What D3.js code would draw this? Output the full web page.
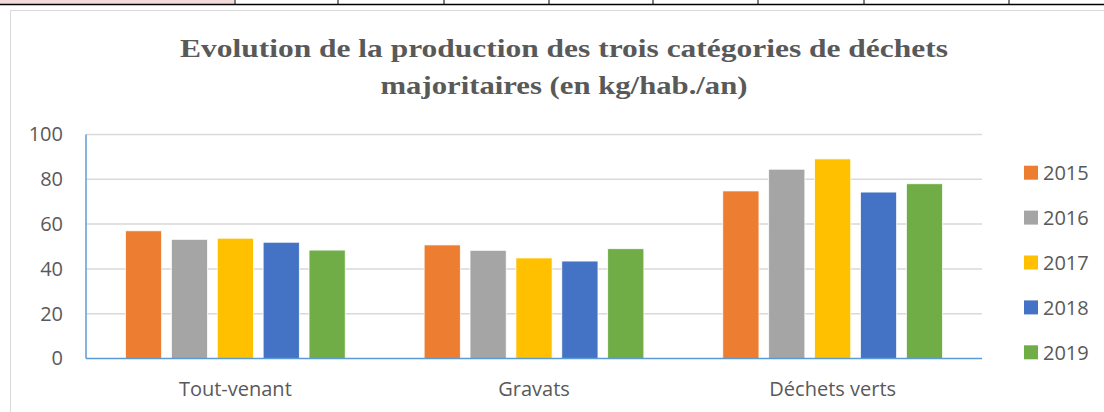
<!DOCTYPE html>
<html>
<head>
<meta charset="utf-8">
<script src="https://cdn.jsdelivr.net/npm/d3@7"></script>
<style>
  body { margin: 0; background: #fff; }
  svg { display: block; }
</style>
</head>
<body>
<div id="chart"></div>
<script>
// Data (kg/hab./an)
const categories = ["Tout-venant", "Gravats", "Déchets verts"];
const years = ["2015", "2016", "2017", "2018", "2019"];
const values2015 = [57, 50.7, 74.8];
const values2016 = [53.2, 48.3, 84.5];
const values2017 = [53.7, 44.9, 89.1];
const values2018 = [51.9, 43.5, 74.3];
const values2019 = [48.4, 49, 78];
const seriesValues = [values2015, values2016, values2017, values2018, values2019];
const yTicks = [0, 20, 40, 60, 80, 100];
const titleLines = ["Evolution de la production des trois catégories de déchets",
                    "majoritaires (en kg/hab./an)"];
const colors = ["#ed7d31", "#a5a5a5", "#ffc000", "#4472c4", "#70ad47"];
const tableCols = [235, 338, 444, 549, 653, 758, 864, 1009];

const width = 1104;
const height = 412;
const plot = { left: 86, right: 982, top: 134.5, bottom: 358.5 };
const labelFont = "'Open Sans', sans-serif";

const svg = d3.select("#chart")
    .append("svg")
    .attr("width", width)
    .attr("height", height);

// bit of the table above the chart
svg.append("rect")
    .attr("x", 0).attr("y", 0)
    .attr("width", 234).attr("height", 4)
    .attr("fill", "#f2dcdb");

svg.selectAll(".tcol")
    .data(tableCols)
    .enter().append("line")
    .attr("x1", d => d).attr("x2", d => d)
    .attr("y1", 0).attr("y2", 5)
    .attr("stroke", "#000")
    .attr("stroke-width", 1);

svg.append("line")
    .attr("x1", 0).attr("x2", width)
    .attr("y1", 4.5).attr("y2", 4.5)
    .attr("stroke", "#000")
    .attr("stroke-width", 1.6);

// chart frame
svg.append("rect")
    .attr("x", 10.5).attr("y", 10.5)
    .attr("width", 1200).attr("height", 500)
    .attr("fill", "#fff")
    .attr("stroke", "#d9d9d9")
    .attr("stroke-width", 1);

// title (serif bold, stretched a bit to the width of the original)
const titleWidths = [768, 367];
const title = svg.append("text")
    .attr("text-anchor", "middle")
    .attr("font-family", "'Liberation Serif', serif")
    .attr("font-weight", "bold")
    .attr("font-size", 26)
    .attr("fill", "#595959");

title.selectAll("tspan")
    .data(titleLines)
    .enter().append("tspan")
    .attr("x", 564)
    .attr("y", (d, i) => 57 + i * 37)
    .attr("textLength", (d, i) => titleWidths[i])
    .attr("lengthAdjust", "spacingAndGlyphs")
    .text(d => d);

// scales
const xScale = d3.scaleBand()
    .domain(categories)
    .range([plot.left, plot.right]);

const xInner = d3.scaleBand()
    .domain(years)
    .range([0, xScale.bandwidth()])
    .paddingInner(0.212)
    .paddingOuter(0.86);

const yScale = d3.scaleLinear()
    .domain([0, 100])
    .range([plot.bottom, plot.top]);

// gridlines
svg.append("g")
    .attr("class", "grid")
    .selectAll("line")
    .data(yTicks.filter(d => d > 0))
    .enter().append("line")
    .attr("x1", plot.left).attr("x2", plot.right)
    .attr("y1", d => yScale(d)).attr("y2", d => yScale(d))
    .attr("stroke", "#d9d9d9")
    .attr("stroke-width", 1.5);

// bars
const groups = svg.append("g")
    .selectAll("g")
    .data(years)
    .enter().append("g")
    .attr("fill", (d, i) => colors[i]);

groups.selectAll("rect")
    .data((d, i) => categories.map((c, j) => ({ cat: c, year: d, value: seriesValues[i][j] })))
    .enter().append("rect")
    .attr("x", d => xScale(d.cat) + xInner(d.year))
    .attr("y", d => yScale(d.value))
    .attr("width", xInner.bandwidth())
    .attr("height", d => yScale(0) - yScale(d.value))
    .attr("stroke", "#fff")
    .attr("stroke-width", 0.75);

// axes lines
svg.append("line")
    .attr("x1", plot.left).attr("x2", plot.left)
    .attr("y1", plot.top).attr("y2", plot.bottom)
    .attr("stroke", "#5b9bd5")
    .attr("stroke-width", 1.5);

svg.append("line")
    .attr("x1", plot.left).attr("x2", plot.right)
    .attr("y1", plot.bottom).attr("y2", plot.bottom)
    .attr("stroke", "#5b9bd5")
    .attr("stroke-width", 1.5);

// y labels
const yAxis = d3.axisLeft(yScale)
    .tickValues(yTicks)
    .tickSize(0)
    .tickPadding(23);

const yG = svg.append("g")
    .attr("transform", `translate(${plot.left},0)`)
    .call(yAxis);
yG.select(".domain").remove();
yG.selectAll("text")
    .attr("font-family", labelFont)
    .attr("font-size", 20)
    .attr("fill", "#595959");

// x labels
const xAxis = d3.axisBottom(xScale)
    .tickSize(0)
    .tickPadding(23);

const xG = svg.append("g")
    .attr("transform", `translate(0,${plot.bottom})`)
    .call(xAxis);
xG.select(".domain").remove();
xG.selectAll("text")
    .attr("font-family", labelFont)
    .attr("font-size", 20)
    .attr("fill", "#595959");

// legend
const legend = svg.append("g")
    .selectAll("g")
    .data(years)
    .enter().append("g")
    .attr("transform", (d, i) => `translate(1024,${172.7 + i * 44.9})`);

legend.append("rect")
    .attr("x", 0).attr("y", -7)
    .attr("width", 14).attr("height", 14)
    .attr("fill", (d, i) => colors[i]);

legend.append("text")
    .attr("x", 19)
    .attr("dy", "0.36em")
    .attr("font-family", labelFont)
    .attr("font-size", 20)
    .attr("fill", "#595959")
    .text(d => d);
</script>
</body>
</html>
